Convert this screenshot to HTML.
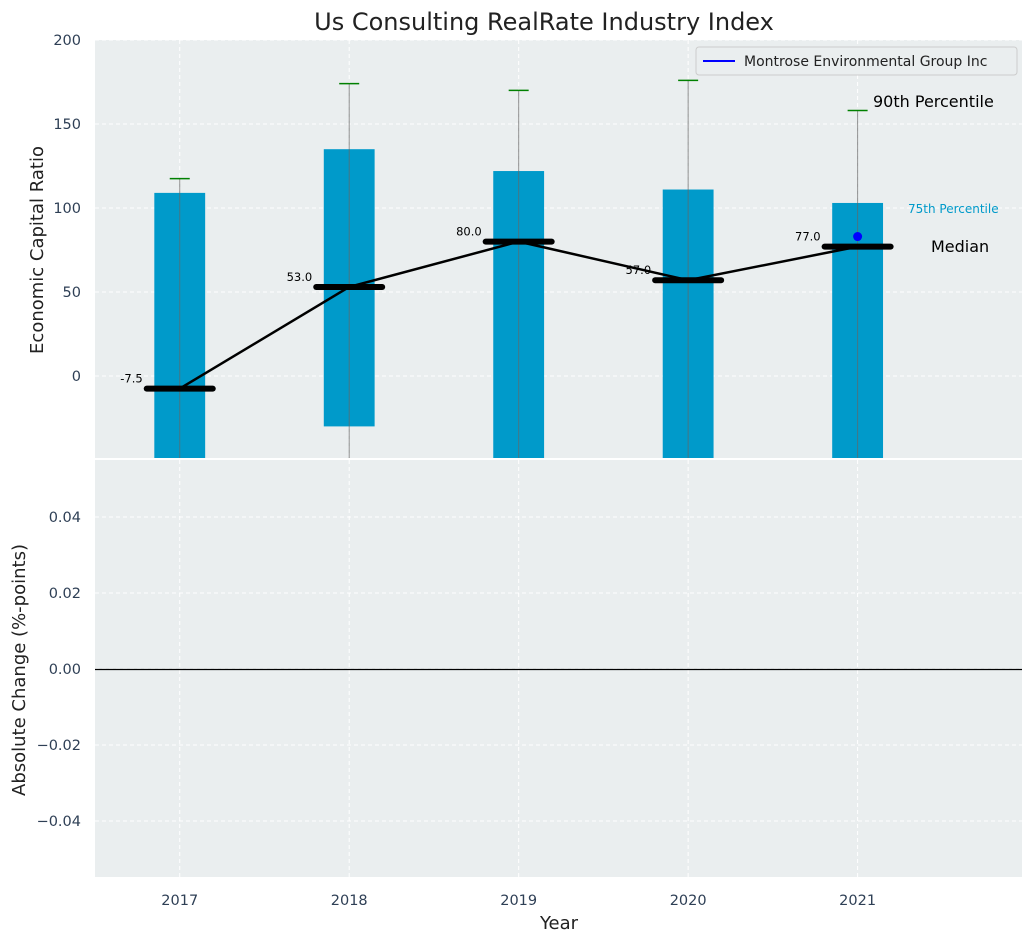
<!DOCTYPE html>
<html><head><meta charset="utf-8"><style>
body{margin:0;background:#fff;font-family:"Liberation Sans","DejaVu Sans",sans-serif}
svg text{font-family:"DejaVu Sans","Liberation Sans",sans-serif}
</style></head><body>
<svg id="c" width="1034" height="942" xmlns="http://www.w3.org/2000/svg"></svg>
<script>
const years=[2017,2018,2019,2020,2021];
const p75=[109,135,122,111,103];
const p25=[-60,-30,-60,-60,-60];
const p90=[117.5,174,170,176,158];
const p10=[-60,-60,-60,-60,-60];
const medians=[-7.5,53,80,57,77];
const company=[null,null,null,null,83];
const topTicks=[0,50,100,150,200];
const botTicks=[-0.04,-0.02,0,0.02,0.04];
const NS="http://www.w3.org/2000/svg";
const svg=document.getElementById('c');
function el(t,a,txt){const e=document.createElementNS(NS,t);for(const k in a)e.setAttribute(k,a[k]);if(txt!=null)e.textContent=txt;svg.appendChild(e);return e;}
const L=95,R=1022,T1=40,B1=458,T2=460,B2=877;
const x=v=>L+(v-2016.5)/(2021.97-2016.5)*(R-L);
const y1=v=>376-v*1.68;
const y2=v=>669-v/0.02*76;
let r;
r=el('rect',{x:L,y:T1,width:R-L,height:B1-T1,fill:'#eaeeef'});

r=el('rect',{x:L,y:T2,width:R-L,height:B2-T2,fill:'#eaeeef'});

years.forEach(v=>{[[T1,B1],[T2,B2]].forEach(([a,b])=>{const g=el('line',{x1:x(v),x2:x(v),y1:a,y2:b,stroke:'#fff','stroke-dasharray':'4,3','stroke-width':1});});
 const t=el('text',{x:x(v),y:905,'text-anchor':'middle','font-size':14.5,fill:'#2e3f55'},v);});
topTicks.forEach(v=>{const g=el('line',{x1:L,x2:R,y1:y1(v),y2:y1(v),stroke:'#fff','stroke-dasharray':'4,3'});
 const t=el('text',{x:81,y:y1(v)+5,'text-anchor':'end','font-size':14.5,fill:'#2e3f55'},v);});
botTicks.forEach(v=>{const g=el('line',{x1:L,x2:R,y1:y2(v),y2:y2(v),stroke:'#fff','stroke-dasharray':'4,3'});
 const t=el('text',{x:81,y:y2(v)+5,'text-anchor':'end','font-size':14.5,fill:'#2e3f55'},(v<0?'\u2212':'')+Math.abs(v).toFixed(2));});
const zl=el('line',{x1:L,x2:R,y1:y2(0)+0.5,y2:y2(0)+0.5,stroke:'#000','stroke-width':1.3});
const cp=el('clipPath',{id:'cp'});const cr=document.createElementNS(NS,'rect');cr.setAttribute('x',L);cr.setAttribute('y',T1);cr.setAttribute('width',R-L);cr.setAttribute('height',B1-T1);cp.appendChild(cr);
const bw=x(2017.15)-x(2017);
years.forEach((v,i)=>{
 const b=el('rect',{x:x(v)-bw,y:y1(p75[i]),width:2*bw,height:y1(p25[i])-y1(p75[i]),fill:'#009aca','clip-path':'url(#cp)'});
 
 const w=el('line',{x1:x(v),x2:x(v),y1:y1(p90[i]),y2:y1(p10[i]),stroke:'#666','stroke-width':1,opacity:0.7,'clip-path':'url(#cp)'});
 
 const c=el('line',{x1:x(v)-10,x2:x(v)+10,y1:y1(p90[i]),y2:y1(p90[i]),stroke:'green','stroke-width':1.5});
 
});
const pl=el('polyline',{points:years.map((v,i)=>x(v)+','+y1(medians[i])).join(' '),fill:'none',stroke:'#000','stroke-width':2.5});

years.forEach((v,i)=>{
 const m=el('line',{x1:x(v)-33,x2:x(v)+33,y1:y1(medians[i]),y2:y1(medians[i]),stroke:'#000','stroke-width':6,'stroke-linecap':'round'});
 
 const t=el('text',{x:x(v)-37,y:y1(medians[i])-6,'text-anchor':'end','font-size':11.5,fill:'#000'},medians[i].toFixed(1));
 
 if(company[i]!=null){const d=el('circle',{cx:x(v),cy:y1(company[i]),r:4.5,fill:'blue'});}
});
let t;
t=el('text',{x:873,y:107,'font-size':16,fill:'#000'},'90th Percentile');
t=el('text',{x:908,y:213,'font-size':12,fill:'#009aca'},'75th Percentile');
t=el('text',{x:931,y:252,'font-size':16,fill:'#000'},'Median');
const lg=el('rect',{x:696,y:47,width:321,height:28,rx:3,fill:'#eaeeef',stroke:'#ccc'});
const ll=el('line',{x1:703,x2:735,y1:61,y2:61,stroke:'blue','stroke-width':2});
t=el('text',{x:744,y:66,'font-size':14,fill:'#222'},'Montrose Environmental Group Inc');
t=el('text',{x:544,y:30,'text-anchor':'middle','font-size':24,fill:'#222'},'Us Consulting RealRate Industry Index');
t=el('text',{x:559,y:929,'text-anchor':'middle','font-size':18,fill:'#222'},'Year');
t=el('text',{x:43,y:250,'text-anchor':'middle','font-size':18,fill:'#222',transform:'rotate(-90 43 250)'},'Economic Capital Ratio');
t=el('text',{x:25,y:670,'text-anchor':'middle','font-size':18,fill:'#222',transform:'rotate(-90 25 670)'},'Absolute Change (%-points)');
</script>
</body></html>
